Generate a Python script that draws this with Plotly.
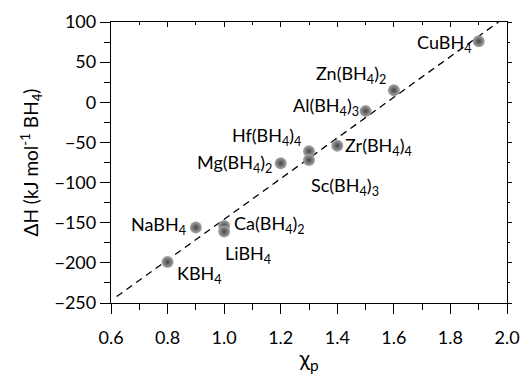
import plotly.graph_objects as go

# Data
names = ["KBH<sub>4</sub>", "NaBH<sub>4</sub>", "Ca(BH<sub>4</sub>)<sub>2</sub>", "LiBH<sub>4</sub>",
         "Mg(BH<sub>4</sub>)<sub>2</sub>", "Hf(BH<sub>4</sub>)<sub>4</sub>", "Sc(BH<sub>4</sub>)<sub>3</sub>",
         "Zr(BH<sub>4</sub>)<sub>4</sub>", "Al(BH<sub>4</sub>)<sub>3</sub>", "Zn(BH<sub>4</sub>)<sub>2</sub>",
         "CuBH<sub>4</sub>"]
chi_p = [0.8, 0.9, 1.0, 1.0, 1.2, 1.3, 1.3, 1.4, 1.5, 1.6, 1.9]
delta_h = [-199, -156, -154, -161, -76, -61, -72, -54, -11, 15, 76]

fit_x = [0.62, 1.97]
fit_y = [-242, 100]

# label placement (styling): xanchor, xshift, yshift
label_style = [
    ("left", 7, -12),
    ("right", -8, 2),
    ("left", 8, 1),
    ("left", -1, -23),
    ("right", -7, 0),
    ("right", -6, 15),
    ("left", 0, -26),
    ("left", 6, -1),
    ("right", -5, 5),
    ("right", -6, 16),
    ("right", -6, -2),
]

FONT = "Lato"

fig = go.Figure()
fig.add_trace(go.Scatter(x=fit_x, y=fit_y, mode="lines",
                         line=dict(color="black", width=1.3, dash="7px,5px"),
                         hoverinfo="skip", showlegend=False))
fig.add_trace(go.Scatter(x=chi_p, y=delta_h, mode="markers",
                         marker=dict(size=12, color="#a8a8a8",
                                     gradient=dict(type="radial", color="#444444"),
                                     line=dict(width=0)),
                         showlegend=False))
# invisible trace for mirrored axes
fig.add_trace(go.Scatter(x=[None], y=[None], xaxis="x2", yaxis="y2", showlegend=False))

for n, xv, yv, (xa, xs, ys) in zip(names, chi_p, delta_h, label_style):
    fig.add_annotation(x=xv, y=yv, text=n, showarrow=False, xanchor=xa, yanchor="middle",
                       xshift=xs, yshift=ys, font=dict(family=FONT, size=18, color="black"))

axis_common = dict(showgrid=False, zeroline=False, linecolor="black", linewidth=1.3,
                   showline=True, automargin=False,
                   tickfont=dict(family=FONT, size=18, color="black"))

fig.update_layout(
    width=522, height=374,
    margin=dict(l=111, r=15, t=22, b=71, autoexpand=False),
    paper_bgcolor="white", plot_bgcolor="white",
    font=dict(family=FONT, color="black"),
    xaxis=dict(range=[0.6, 2.0], tickvals=[0.6, 0.8, 1.0, 1.2, 1.4, 1.6, 1.8, 2.0],
               tickformat=".1f", ticks="outside", ticklen=10, tickwidth=1.3, tickcolor="black",
               minor=dict(dtick=0.1, ticks="outside", ticklen=6, tickwidth=1.3, tickcolor="black"),
               ticklabelstandoff=8,
               title=dict(text="χ<sub>p</sub>", font=dict(family=FONT, size=22), standoff=4),
               **axis_common),
    yaxis=dict(range=[-250, 100], tickvals=[-250, -200, -150, -100, -50, 0, 50, 100],
               ticks="outside", ticklen=10, tickwidth=1.3, tickcolor="black",
               minor=dict(dtick=25, ticks="outside", ticklen=6, tickwidth=1.3, tickcolor="black"),
               title=dict(text="ΔH (kJ mol<sup>-1</sup> BH<sub>4</sub>)", font=dict(family=FONT, size=19), standoff=10),
               **axis_common),
    xaxis2=dict(overlaying="x", side="top", range=[0.6, 2.0], dtick=0.2, tick0=0.6,
                ticks="inside", ticklen=5, tickwidth=1, tickcolor="black", showticklabels=False,
                minor=dict(dtick=0.1, ticks="inside", ticklen=3, tickwidth=1, tickcolor="black"),
                showline=True, showgrid=False, zeroline=False, linecolor="black", linewidth=1.3,
                automargin=False),
    yaxis2=dict(overlaying="y", side="right", range=[-250, 100], dtick=50, tick0=-250,
                ticks="outside", ticklen=4, tickwidth=1, tickcolor="black", showticklabels=False,
                minor=dict(dtick=25, ticks="outside", ticklen=2, tickwidth=1, tickcolor="black"),
                showline=True, showgrid=False, zeroline=False, linecolor="black", linewidth=1.3,
                automargin=False),
)

fig.write_html("out.html")
